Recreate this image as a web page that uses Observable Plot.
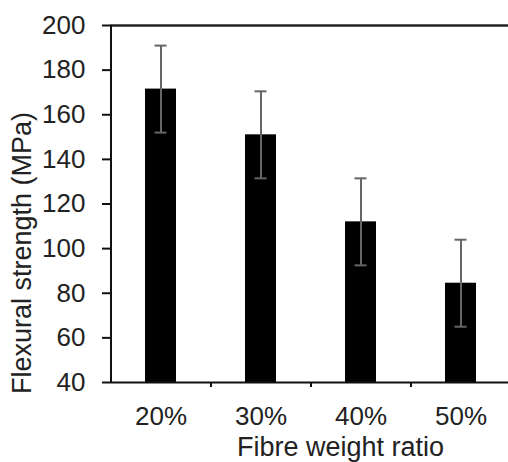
<!DOCTYPE html>
<html>
<head>
<meta charset="utf-8">
<script src="https://cdn.jsdelivr.net/npm/d3@7"></script>
<script src="https://cdn.jsdelivr.net/npm/@observablehq/plot@0.6"></script>
<style>
  html, body { margin: 0; padding: 0; background: #fff; }
  #chart { width: 508px; height: 462px; }
</style>
</head>
<body>
<div id="chart"></div>
<script>
const categories = ["20%", "30%", "40%", "50%"];
const strength = [171.5, 151, 112, 84.5];
const errors = [19.5, 19.5, 19.5, 19.5];
const yTicks = [40, 60, 80, 100, 120, 140, 160, 180, 200];
const xTitle = "Fibre weight ratio";
const yTitle = "Flexural strength (MPa)";

const data = categories.map((c, i) => ({
  cat: c, v: strength[i], lo: strength[i] - errors[i], hi: strength[i] + errors[i]
}));

const font = "'Liberation Sans', Arial, sans-serif";

const chart = Plot.plot({
  width: 508,
  height: 462,
  marginTop: 25,
  marginBottom: 80,
  marginLeft: 110,
  marginRight: 0,
  style: { fontFamily: font, fontSize: "26px", color: "#222", background: "#fff" },
  x: { domain: categories, range: [110, 510], paddingInner: 0.69, paddingOuter: 0.345 },
  y: { domain: [40, 200] },
  marks: [
    Plot.barY(data, { x: "cat", y1: 40, y2: "v", fill: "#000" }),
    Plot.ruleX(data, { x: "cat", y1: "lo", y2: "hi", stroke: "#666", strokeWidth: 2 }),
    Plot.tickY(data, { x: "cat", y: "hi", stroke: "#666", strokeWidth: 2, insetLeft: 9.5, insetRight: 9.5 }),
    Plot.tickY(data, { x: "cat", y: "lo", stroke: "#666", strokeWidth: 2, insetLeft: 9.5, insetRight: 9.5 }),
    Plot.axisY({ ticks: yTicks, tickSize: 8, tickPadding: 17, label: null, fontSize: 26, strokeWidth: 2, stroke: "#111" }),
    Plot.axisX({ tickSize: 0, tickPadding: 24, label: null, fontSize: 26 }),
    Plot.ruleX(categories.slice(1), { x: d => d, y1: 40, y2: 40, dx: -50, insetBottom: -5, stroke: "#111", strokeWidth: 2 }),
    Plot.ruleY([40], { stroke: "#111", strokeWidth: 2 }),
    Plot.ruleY([200], { stroke: "#222", strokeWidth: 2.5 }),
    Plot.ruleX([categories[0]], { y1: 40, y2: 200, dx: -50, stroke: "#111", strokeWidth: 2 }),
    Plot.text([xTitle], { text: d => d, frameAnchor: "bottom", textAnchor: "middle", lineAnchor: "middle", dx: 31, dy: 65, fontSize: 27, fill: "#222" }),
    Plot.text([yTitle], { text: d => d, frameAnchor: "left", textAnchor: "middle", lineAnchor: "middle", rotate: -90, dx: -88, dy: 49, fontSize: 27, fill: "#222" })
  ]
});
document.getElementById("chart").appendChild(chart);
</script>
</body>
</html>
